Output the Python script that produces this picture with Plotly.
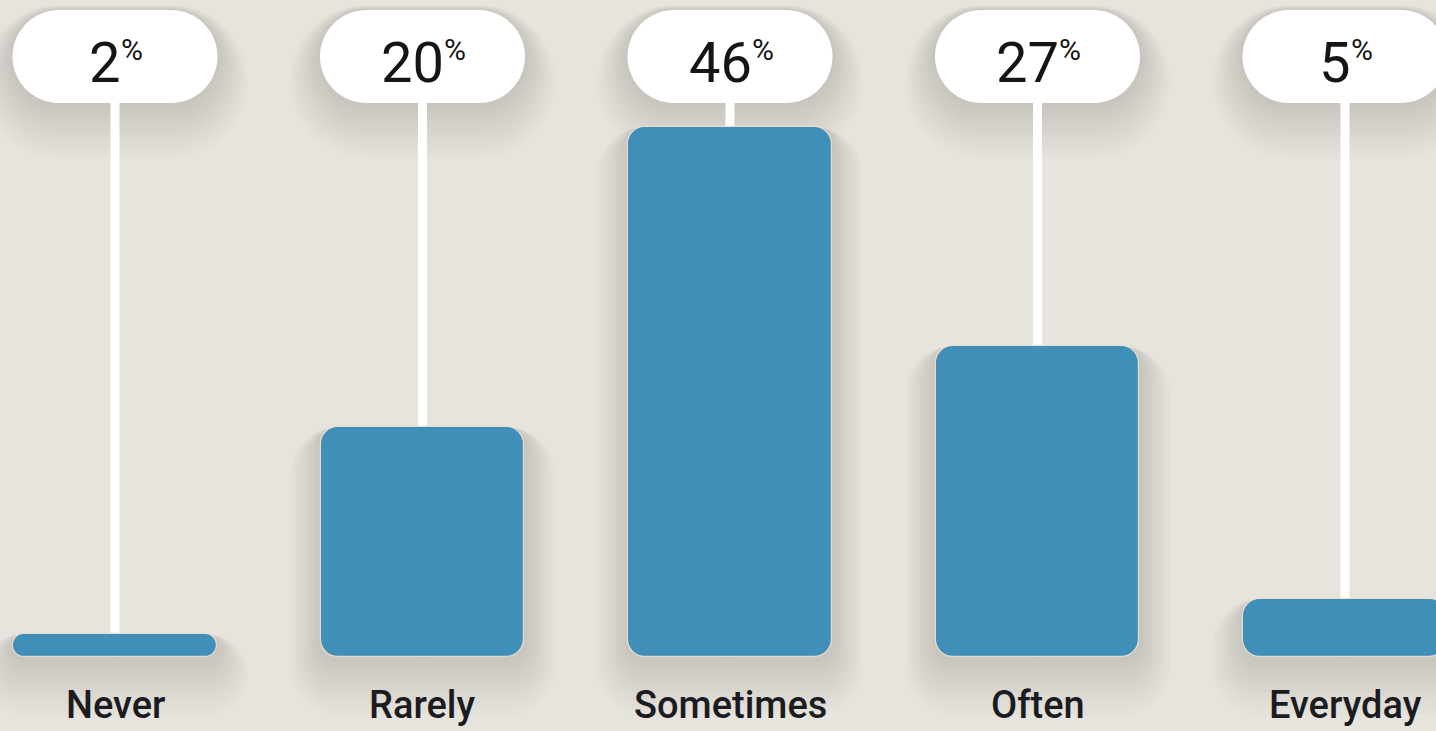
import plotly.graph_objects as go

# Survey answers and their shares (%)
categories = ["Never", "Rarely", "Sometimes", "Often", "Everyday"]
shares = [2, 20, 46, 27, 5]

W, H = 1436, 731
BAR_COLOR = "#408fb9"
BG = "#e7e4de"
BAR_W = 0.663
xs = list(range(len(categories)))

fig = go.Figure()

# soft shadow halos behind the bars
for k in range(1, 11):
    fig.add_trace(go.Bar(
        x=xs, y=[v + 0.5 * k for v in shares], base=[-0.5 * k] * len(shares),
        width=BAR_W + 0.02 * k,
        marker=dict(color="rgba(80,70,60,0.014)", line=dict(width=0), cornerradius=18 + 3 * k),
        hoverinfo="skip", showlegend=False,
    ))

# the bars themselves, rounded at both ends
fig.add_trace(go.Bar(
    x=xs, y=shares, base=[0] * len(shares),
    width=BAR_W,
    marker=dict(color=BAR_COLOR, line=dict(width=1.2, color="rgba(242,224,206,0.9)"),
                cornerradius=18),
    hoverinfo="skip", showlegend=False,
))


def pill_path(hw, hh, dy=0.0):
    """Stadium-shaped path in pixels, centred on the anchor."""
    r = hh
    k = 0.5523 * r
    top, bot = hh + dy, -hh + dy
    return (
        f"M {-hw + r},{top} L {hw - r},{top} "
        f"C {hw - r + k},{top} {hw},{top - r + k} {hw},{top - r} "
        f"C {hw},{top - r - k} {hw - r + k},{bot} {hw - r},{bot} "
        f"L {-hw + r},{bot} "
        f"C {-hw + r - k},{bot} {-hw},{bot + r - k} {-hw},{bot + r} "
        f"C {-hw},{bot + r + k} {-hw + r - k},{top} {-hw + r},{top} Z"
    )


PILL_Y = 1 - 56.5 / H
shapes = []
for i, v in zip(xs, shares):
    # white stem from the bar up to the value badge
    shapes.append(dict(type="line", xref="x", yref="y", x0=i, x1=i, y0=0, y1=52,
                       line=dict(color="white", width=9), layer="below"))
    # badge shadow
    for k in range(1, 11):
        shapes.append(dict(type="path", xref="x", yref="paper", xsizemode="pixel",
                           ysizemode="pixel", xanchor=i, yanchor=PILL_Y,
                           path=pill_path(102.5 + 3 * k, 46.5 + 3 * k, dy=-2.5 * k),
                           fillcolor="rgba(80,70,60,0.016)", line=dict(width=0), layer="below"))
    # badge
    shapes.append(dict(type="path", xref="x", yref="paper", xsizemode="pixel",
                       ysizemode="pixel", xanchor=i, yanchor=PILL_Y,
                       path=pill_path(102.5, 46.5), fillcolor="white",
                       line=dict(width=0), layer="above"))

NUM_SIZE, PCT_SIZE = 56, 30
DIGIT_W = 0.5615 * NUM_SIZE
PCT_W = 0.733 * PCT_SIZE
annotations = []
for i, v, c in zip(xs, shares, categories):
    num = str(v)
    group_w = len(num) * DIGIT_W + 2 + PCT_W
    left = -group_w / 2 + 2
    annotations.append(dict(
        x=i, y=1 - 63 / H, xref="x", yref="paper", showarrow=False, text=num,
        font=dict(family="Roboto", size=NUM_SIZE, color="#151515"),
        xanchor="left", yanchor="middle", xshift=left, borderpad=0, borderwidth=0,
    ))
    annotations.append(dict(
        x=i, y=1 - 49 / H, xref="x", yref="paper", showarrow=False, text="%",
        font=dict(family="Roboto", size=PCT_SIZE, color="#151515"),
        xanchor="left", yanchor="middle", xshift=left + len(num) * DIGIT_W + 0.5,
        borderpad=0, borderwidth=0,
    ))
    annotations.append(dict(
        x=i, y=1 - 705 / H, xref="x", yref="paper", showarrow=False, text=c,
        font=dict(family="Roboto", size=38, color="#1b1c1f", weight=500),
        xanchor="center", yanchor="middle",
    ))

fig.update_layout(
    width=W, height=H, margin=dict(l=0, r=0, t=0, b=0),
    paper_bgcolor=BG, plot_bgcolor=BG, barmode="overlay", bargap=0,
    shapes=shapes, annotations=annotations, showlegend=False,
    xaxis=dict(range=[-115 / 307.5, (W - 115) / 307.5], visible=False, fixedrange=True),
    yaxis=dict(range=[-(H - 657) / 11.52, 657 / 11.52], visible=False, fixedrange=True),
)

fig.write_html("out.html", config={"displayModeBar": False})
